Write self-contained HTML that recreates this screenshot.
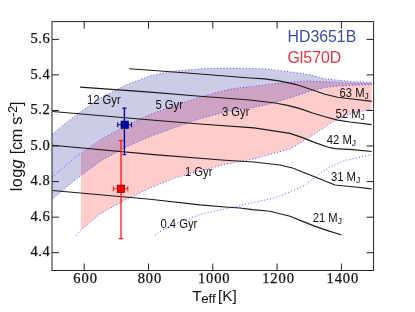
<!DOCTYPE html>
<html><head><meta charset="utf-8"><style>
html,body{margin:0;padding:0;background:#fff;}
body{width:415px;height:312px;overflow:hidden;}
svg{display:block;will-change:transform;}
text{font-family:"Liberation Sans",sans-serif;}
.tk text{font-family:"Liberation Serif",serif;font-size:14.5px;letter-spacing:0.3px;fill:#111;stroke:#111;stroke-width:0.25px;}
.lab text{font-size:12.5px;fill:#111;}
</style></head><body>
<svg width="415" height="312" viewBox="0 0 415 312">
<rect width="415" height="312" fill="#fff"/>
<defs><clipPath id="c"><rect x="52.0" y="21.6" width="319.7" height="248.9"/></clipPath></defs>
<g clip-path="url(#c)">
<polygon points="52.0,134.2 75.0,115.7 100.0,98.1 125.0,85.5 150.0,75.8 175.0,71.0 200.0,68.8 225.0,68.1 250.0,68.4 264.5,68.7 278.9,70.4 293.4,72.3 310.0,74.7 325.0,78.8 350.0,81.4 373.0,82.5 373.0,84.7 354.0,85.3 337.7,86.0 325.0,87.6 310.0,91.1 293.4,96.9 278.9,101.2 265.9,105.0 250.0,108.0 225.0,112.0 200.0,118.8 175.0,127.6 150.0,136.5 125.0,147.6 100.0,161.4 75.0,180.0 65.0,188.5 52.0,199.2" fill="#cccce6"/>
<polygon points="81.0,153.4 100.0,140.0 125.0,126.3 150.0,114.5 175.0,105.3 200.0,97.1 220.0,91.6 229.6,89.3 239.3,87.8 250.0,86.7 264.5,84.9 278.9,83.1 293.4,81.7 310.0,81.0 325.0,81.8 350.0,83.0 373.0,83.6 373.0,109.3 365.2,110.6 352.7,113.0 340.0,117.6 327.6,125.0 315.0,133.9 302.5,141.4 290.0,148.9 254.0,158.8 225.0,164.5 200.0,170.8 175.0,178.0 150.0,188.0 125.0,200.0 100.0,213.9 81.0,229.9" fill="#ffcccc"/>
<polygon points="81.0,153.4 100.0,140.0 125.0,126.3 150.0,114.5 175.0,105.3 200.0,97.1 220.0,91.6 229.6,89.3 239.3,87.8 250.0,86.7 264.5,84.9 278.9,83.1 293.4,81.7 310.0,81.0 325.0,81.8 350.0,83.0 373.0,83.6 373.0,84.7 354.0,85.3 337.7,86.0 325.0,87.6 310.0,91.1 293.4,96.9 278.9,101.2 265.9,105.0 250.0,108.0 225.0,112.0 200.0,118.8 175.0,127.6 150.0,136.5 125.0,147.6 100.0,161.4 81.0,175.5" fill="#cca3c2"/>
<g fill="none" stroke="#4848ff" stroke-width="0.95" stroke-dasharray="0.95 2.25">
<polyline points="52.0,134.2 75.0,115.7 100.0,98.1 125.0,85.5 150.0,75.8 175.0,71.0 200.0,68.8 225.0,68.1 250.0,68.4 264.5,68.7 278.9,70.4 293.4,72.3 310.0,74.7 325.0,78.8 350.0,81.4 373.0,82.5"/><polyline points="52.0,177.6 75.0,157.6 100.0,140.0 125.0,126.3 150.0,114.5 175.0,105.3 200.0,97.1 220.0,91.6 229.6,89.3 239.3,87.8 250.0,86.7 264.5,84.9 278.9,83.1 293.4,81.7 310.0,81.0 325.0,81.8 350.0,83.0 373.0,83.6"/><polyline points="52.0,199.2 65.0,188.5 75.0,180.0 100.0,161.4 125.0,147.6 150.0,136.5 175.0,127.6 200.0,118.8 225.0,112.0 250.0,108.0 265.9,105.0 278.9,101.2 293.4,96.9 310.0,91.1 325.0,87.6 337.7,86.0 354.0,85.3 373.0,84.7"/><polyline points="76.3,235.7 80.6,230.2 100.0,213.9 125.0,200.0 150.0,188.0 175.0,178.0 200.0,170.8 225.0,164.5 254.0,158.8 290.0,148.9 302.5,141.4 315.0,133.9 327.6,125.0 340.0,117.6 352.7,113.0 365.2,110.6 373.0,109.3"/><polyline points="155.0,235.2 162.5,230.0 175.0,224.0 187.6,219.0 200.0,214.6 212.7,211.4 225.0,208.9 240.0,205.8 252.5,202.6 265.0,200.0 277.6,196.9 290.0,191.8 305.0,185.2 317.6,175.4 330.0,166.9 342.7,161.2 355.0,158.2 372.9,154.4"/>
</g>
<g fill="none" stroke="#1a1a1a" stroke-width="1.15" stroke-linejoin="round">
<polyline points="129.2,68.8 154.0,70.5 200.0,74.0 250.0,78.0 264.5,78.9 278.9,80.9 293.4,83.9 300.0,85.8 312.6,90.0 325.0,94.2 337.6,97.3 350.0,98.8 372.9,101.4"/><polyline points="80.1,87.1 150.0,92.1 200.0,96.3 250.0,100.0 275.0,103.0 287.6,105.4 300.0,108.6 312.6,113.0 325.0,116.8 337.6,120.1 350.0,122.0 372.9,124.8"/><polyline points="52.5,111.5 154.0,120.3 200.0,124.0 254.0,127.9 290.0,133.4 302.5,137.6 315.0,142.6 327.6,147.0 335.0,148.6 352.7,149.6 372.9,151.6"/><polyline points="52.5,145.3 154.0,154.6 225.0,160.3 254.0,162.0 280.0,165.0 292.5,168.0 305.0,173.0 317.6,178.0 330.0,183.0 335.0,185.0 355.0,187.0 372.9,188.9"/><polyline points="52.5,190.5 150.0,199.3 200.0,204.9 225.0,207.0 240.0,208.0 252.5,209.6 270.0,211.3 290.0,216.3 302.7,221.4 315.2,226.4 327.7,230.6 341.5,235.0"/>
</g>
</g>
<!-- data points -->
<g stroke="#ff1418" fill="none">
<path stroke-width="1.3" d="M121.0 140.6 V238.6"/>
<path stroke-width="1.1" d="M118.7 140.6 h4.6 M118.7 238.6 h4.6 M113.4 188.8 H127.8 M113.4 186.3 v5 M127.8 186.3 v5"/>
</g>
<rect x="117.2" y="185.1" width="7.4" height="7.4" fill="#ff0000" stroke="#5a0000" stroke-width="0.7"/>
<g stroke="#0000a0" fill="none">
<path stroke-width="1.35" d="M124.4 108.1 V154.6"/>
<path stroke-width="1.1" d="M122.3 108.1 h4.2 M122.5 154.6 h3.8 M117.7 124.7 H131.5 M117.7 122.2 v5 M131.5 122.2 v5"/>
</g>
<rect x="121.0" y="121.1" width="7.4" height="7.4" fill="#0000a8" stroke="#000050" stroke-width="0.7"/>
<!-- frame -->
<rect x="52.0" y="21.6" width="321.6" height="248.9" fill="none" stroke="#222" stroke-width="1"/>
<g stroke="#222" stroke-width="1" fill="none"><path d="M84.2 270.5 v-7 M84.2 21.6 v7"/><path d="M148.5 270.5 v-7 M148.5 21.6 v7"/><path d="M212.8 270.5 v-7 M212.8 21.6 v7"/><path d="M277.1 270.5 v-7 M277.1 21.6 v7"/><path d="M341.4 270.5 v-7 M341.4 21.6 v7"/><path d="M52.0 252.7 h7 M373.6 252.7 h-7"/><path d="M52.0 217.2 h7 M373.6 217.2 h-7"/><path d="M52.0 181.6 h7 M373.6 181.6 h-7"/><path d="M52.0 146.0 h7 M373.6 146.0 h-7"/><path d="M52.0 110.5 h7 M373.6 110.5 h-7"/><path d="M52.0 74.9 h7 M373.6 74.9 h-7"/><path d="M52.0 39.4 h7 M373.6 39.4 h-7"/></g>
<g class="tk"><text x="85.6" y="282.9" text-anchor="middle" style="letter-spacing:0.9px">600</text><text x="149.9" y="282.9" text-anchor="middle" style="letter-spacing:0.9px">800</text><text x="214.2" y="282.9" text-anchor="middle" style="letter-spacing:0.9px">1000</text><text x="278.5" y="282.9" text-anchor="middle" style="letter-spacing:0.9px">1200</text><text x="342.8" y="282.9" text-anchor="middle" style="letter-spacing:0.9px">1400</text><text x="50.1" y="256.4" text-anchor="end" style="letter-spacing:0.45px">4.4</text><text x="50.1" y="220.9" text-anchor="end" style="letter-spacing:0.45px">4.6</text><text x="50.1" y="185.3" text-anchor="end" style="letter-spacing:0.45px">4.8</text><text x="50.1" y="149.7" text-anchor="end" style="letter-spacing:0.45px">5.0</text><text x="50.1" y="114.2" text-anchor="end" style="letter-spacing:0.45px">5.2</text><text x="50.1" y="78.6" text-anchor="end" style="letter-spacing:0.45px">5.4</text><text x="50.1" y="43.1" text-anchor="end" style="letter-spacing:0.45px">5.6</text></g>
<g class="lab">
<text transform="translate(87 103.9) scale(0.9 1)">12 Gyr</text>
<text transform="translate(155.5 108.8) scale(0.9 1)">5 Gyr</text>
<text transform="translate(222 115.5) scale(0.9 1)">3 Gyr</text>
<text transform="translate(185 175.6) scale(0.9 1)">1 Gyr</text>
<text transform="translate(160.5 227.7) scale(0.9 1)">0.4 Gyr</text>
<text transform="translate(339.6 97.0) scale(0.9 1)">63 M<tspan font-size="9.5" dy="2.4">J</tspan></text>
<text transform="translate(335.6 117.6) scale(0.9 1)">52 M<tspan font-size="9.5" dy="2.4">J</tspan></text>
<text transform="translate(326.8 143.9) scale(0.9 1)">42 M<tspan font-size="9.5" dy="2.4">J</tspan></text>
<text transform="translate(330.9 180.6) scale(0.9 1)">31 M<tspan font-size="9.5" dy="2.4">J</tspan></text>
<text transform="translate(312.7 222) scale(0.9 1)">21 M<tspan font-size="9.5" dy="2.4">J</tspan></text>
</g>
<text transform="translate(287.5 41.5) scale(0.98 1)" font-size="16.2" fill="#3b4ba0">HD3651B</text>
<text transform="translate(287.5 62.9) scale(0.98 1)" font-size="16.2" fill="#e8303a">Gl570D</text>
<text x="192.3" y="301" font-size="15.4" fill="#111">T</text>
<text x="201.2" y="303.1" font-size="13.3" fill="#111">eff</text>
<text x="217.9" y="301" font-size="15.4" fill="#111">[K]</text>
<text transform="translate(22.3 191.2) rotate(-90)" font-size="16.3" fill="#111"><tspan letter-spacing="0.35">log</tspan><tspan font-style="italic" letter-spacing="0.35">g </tspan><tspan letter-spacing="-0.35">[cm s</tspan><tspan font-size="13" dy="-5.6" letter-spacing="-0.3">-2</tspan><tspan dy="5.6">]</tspan></text>
</svg>
</body></html>
